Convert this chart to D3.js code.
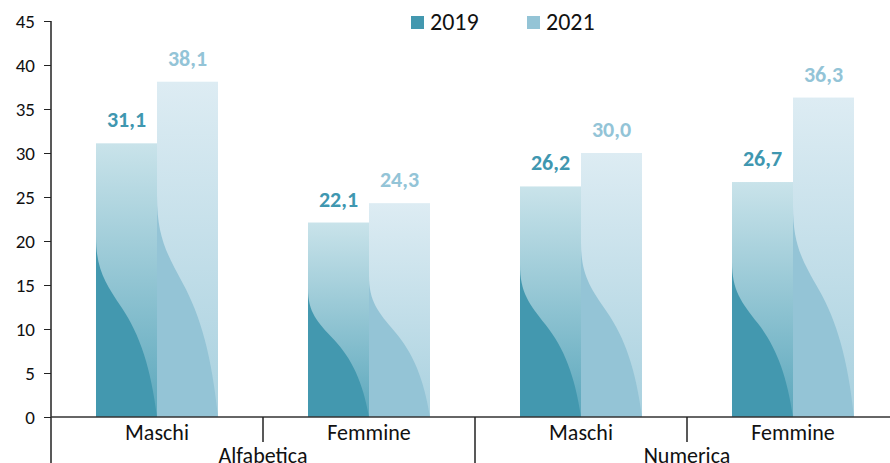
<!DOCTYPE html>
<html lang="it">
<head>
<meta charset="UTF-8">
<title>Chart</title>
<script src="https://cdn.jsdelivr.net/npm/d3@7"></script>
<style>
	body { margin: 0; background: #fff; }
	text { font-family: Carlito, Lato, "Open Sans", sans-serif; }
</style>
</head>
<body>
<svg id="chart" width="890" height="463"></svg>
<script>
var groups = ["Alfabetica", "Numerica"];
var genders = ["Maschi", "Femmine"];
var years = ["2019", "2021"];
var values2019 = [31.1, 22.1, 26.2, 26.7];
var values2021 = [38.1, 24.3, 30.0, 36.3];
var yTicks = [0, 5, 10, 15, 20, 25, 30, 35, 40, 45];

var colors = {
	"2019": { dark: "#4398af", top: "#c9e3ea", bottom: "#5ba7bc", label: "#3f97b0" },
	"2021": { dark: "#94c4d6", top: "#ddecf3", bottom: "#a9d1df", label: "#93c4d7" }
};

var svg = d3.select("#chart");
var mLeft = 51, mRight = 899, mTop = 21, mBottom = 417;

var cats = [];
groups.forEach(g => genders.forEach(s => cats.push(g + "|" + s)));

var rows = [];
cats.forEach((c, i) => {
	rows.push({ cat: c, year: "2019", value: values2019[i] });
	rows.push({ cat: c, year: "2021", value: values2021[i] });
});

var x0 = d3.scaleBand().domain(cats).range([mLeft, mRight]);
var x1 = d3.scaleBand().domain(years).range([0, x0.bandwidth()]).paddingOuter(0.7377);
var y = d3.scaleLinear().domain([0, 45]).range([mBottom, mTop]);

// gradients
var defs = svg.append("defs");
years.forEach(yr => {
	var g = defs.append("linearGradient").attr("id", "grad" + yr)
		.attr("x1", 0).attr("y1", 0).attr("x2", 0).attr("y2", 1);
	g.append("stop").attr("offset", "0%").attr("stop-color", colors[yr].top);
	g.append("stop").attr("offset", "100%").attr("stop-color", colors[yr].bottom);
});

// S-shaped wave inside each bar
function wave(bx, by, bw, bh) {
	var p = d3.path();
	var X = t => bx + t * bw, Y = t => by + t * bh;
	p.moveTo(X(0), Y(0.34));
	p.bezierCurveTo(X(0), Y(0.46), X(0.15), Y(0.51), X(0.42), Y(0.6));
	p.bezierCurveTo(X(0.72), Y(0.7), X(0.9), Y(0.82), X(1), Y(1));
	p.lineTo(X(0), Y(1));
	p.closePath();
	return p.toString();
}

var bars = svg.append("g").selectAll("g").data(rows).join("g");
bars.append("rect")
	.attr("x", d => x0(d.cat) + x1(d.year))
	.attr("y", d => y(d.value))
	.attr("width", x1.bandwidth())
	.attr("height", d => y(0) - y(d.value))
	.attr("fill", d => "url(#grad" + d.year + ")");
bars.append("path")
	.attr("d", d => wave(x0(d.cat) + x1(d.year), y(d.value), x1.bandwidth(), y(0) - y(d.value)))
	.attr("fill", d => colors[d.year].dark);
bars.append("text")
	.attr("x", d => x0(d.cat) + x1(d.year) + x1.bandwidth() / 2)
	.attr("y", d => y(d.value) - 16)
	.attr("text-anchor", "middle")
	.attr("font-size", 22)
	.attr("font-weight", "bold")
	.attr("fill", d => colors[d.year].label)
	.text(d => d.value.toFixed(1).replace(".", ","));

// y axis
var yAxis = svg.append("g").attr("transform", "translate(" + mLeft + ",0)")
	.call(d3.axisLeft(y).tickValues(yTicks).tickSize(7).tickPadding(9));
yAxis.select(".domain").remove();
yAxis.selectAll("line").attr("stroke", "#222");
yAxis.selectAll("text").attr("font-size", 19).attr("fill", "#111").style("font-family", "Carlito, Lato, sans-serif");
svg.append("line").attr("x1", mLeft).attr("x2", mLeft).attr("y1", mTop).attr("y2", 463)
	.attr("stroke", "#222").attr("stroke-width", 1.5);

// x axis
svg.append("line").attr("x1", mLeft).attr("x2", 890).attr("y1", mBottom).attr("y2", mBottom)
	.attr("stroke", "#333").attr("stroke-width", 1.5);

svg.append("g").selectAll("text").data(cats).join("text")
	.attr("x", d => x0(d) + x0.bandwidth() / 2)
	.attr("y", mBottom + 23)
	.attr("text-anchor", "middle")
	.attr("font-size", 22)
	.attr("fill", "#111")
	.text(d => d.split("|")[1]);

// separators
cats.slice(1).forEach(c => {
	var isGroup = c.split("|")[1] === genders[0];
	svg.append("line").attr("x1", x0(c)).attr("x2", x0(c))
		.attr("y1", mBottom).attr("y2", isGroup ? 463 : 442)
		.attr("stroke", "#222").attr("stroke-width", 1.5);
});

svg.append("g").selectAll("text").data(groups).join("text")
	.attr("x", g => x0(g + "|" + genders[genders.length - 1]))
	.attr("y", mBottom + 46)
	.attr("text-anchor", "middle")
	.attr("font-size", 22)
	.attr("fill", "#111")
	.text(g => g);

// legend
var legendX = [411, 527];
var leg = svg.append("g").selectAll("g").data(years).join("g")
	.attr("transform", (d, i) => "translate(" + legendX[i] + ",16)");
leg.append("rect").attr("width", 13).attr("height", 13).attr("fill", d => colors[d].dark);
leg.append("text").attr("x", 19).attr("y", 14).attr("font-size", 24).attr("fill", "#111").text(d => d);
</script>
</body>
</html>
